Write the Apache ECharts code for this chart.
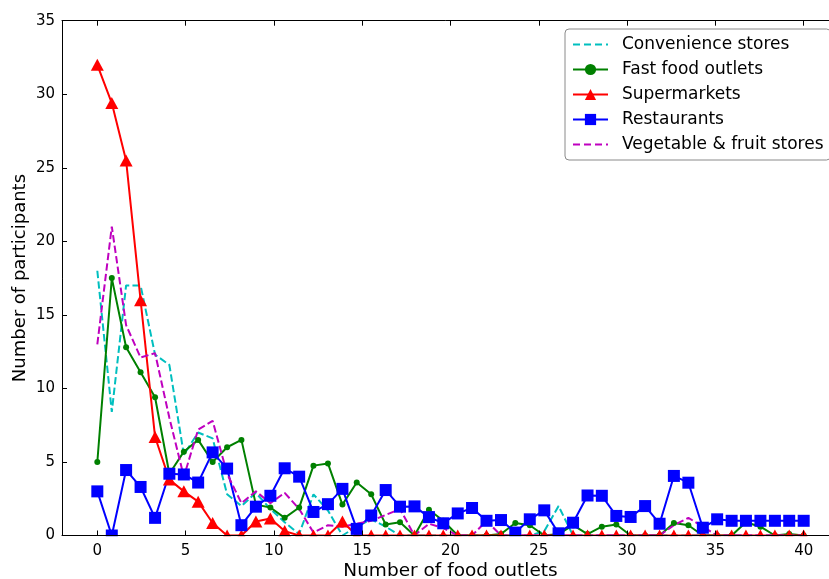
<!DOCTYPE html>
<html>
<head>
<meta charset="utf-8">
<script src="https://cdn.jsdelivr.net/npm/echarts@6/dist/echarts.min.js"></script>
<style>html,body{margin:0;padding:0;background:#fff;}#chart{width:829px;height:579px;}</style>
</head>
<body>
<div id="chart"></div>
<script>
var xValues = [0,0.82,1.63,2.45,3.27,4.08,4.90,5.71,6.53,7.35,8.16,8.98,9.80,10.61,11.43,12.24,13.06,13.88,14.69,15.51,16.33,17.14,17.96,18.78,19.59,20.41,21.22,22.04,22.86,23.67,24.49,25.31,26.12,26.94,27.76,28.57,29.39,30.20,31.02,31.84,32.65,33.47,34.29,35.10,35.92,36.73,37.55,38.37,39.18,40.00];
var convenience = [18.0,8.4,17.0,17.0,12.3,11.6,5.5,7.0,6.6,2.8,2.0,2.9,1.8,0.9,0.1,2.8,1.7,0,0.6,1.1,0.6,0,0,0,0,0,0,0,0,0,0,0.3,2.0,0,0,0,0,0,0,0,0,0,0,0,0,0,0,0,0,0];
var fastFood = [5.0,17.5,12.8,11.1,9.4,4.2,5.7,6.5,5.0,6.0,6.5,2.1,1.9,1.2,1.9,4.75,4.9,2.1,3.6,2.8,0.75,0.9,0,1.75,1.0,0,0,0,0.1,0.85,0.7,0,0.1,0.7,0.1,0.6,0.75,0,0,0,0.85,0.7,0,0,0,0.9,0.6,0,0.1,0];
var supermarkets = [32,29.4,25.5,16.0,6.7,3.8,3.0,2.3,0.85,0,0,0.95,1.15,0.3,0,0,0,0.95,0,0,0,0,0,0,0,0,0,0,0,0,0,0,0,0,0,0,0,0,0,0,0,0,0,0,0,0,0,0,0,0];
var restaurants = [3.0,0,4.45,3.3,1.2,4.2,4.15,3.6,5.65,4.55,0.7,1.96,2.7,4.57,4.0,1.6,2.13,3.17,0.45,1.36,3.09,1.96,1.98,1.25,0.83,1.5,1.87,1.0,1.05,0.2,1.1,1.71,0.15,0.87,2.72,2.7,1.33,1.26,2.0,0.8,4.05,3.59,0.53,1.1,1.0,1.0,1.0,1.0,1.0,1.0];
var vegetable = [13.0,21.0,14.3,12.1,12.4,8.0,4.0,7.2,7.8,4.2,2.2,3.0,2.2,2.9,1.8,0.2,0.7,0.6,0.8,1.0,1.4,1.8,0,0.8,0.5,0,0,1.0,0,0,0,0,0,0,0,0,0,0,0,0,0.7,1.2,0.6,0,0,0,0,0,0,0];
var seriesNames = ['Convenience stores','Fast food outlets','Supermarkets','Restaurants','Vegetable & fruit stores'];
var xTicks = [0,5,10,15,20,25,30,35,40];
var yTicks = [0,5,10,15,20,25,30,35];

function pairs(ys){ return xValues.map(function(x,i){ return [x, ys[i]]; }); }

var FONT = 'DejaVu Sans';
var chart = echarts.init(document.getElementById('chart'), null, {renderer:'canvas'});
var GL = 62, GT = 20.7, GW = 777, GH = 514.8;
var CYAN = '#00bfbf', GREEN = '#008000', RED = '#ff0000', BLUE = '#0000ff', MAG = '#bf00bf';
var DASH = [7.4, 3.2];
var option = {
  backgroundColor: '#ffffff',
  animation: false,
  grid: {left: GL, top: GT, width: GW, height: GH, containLabel: false, outerBoundsMode: 'none'},
  xAxis: [{
    type: 'value', min: -2, max: 42, z: 10,
    position: 'bottom',
    name: 'Number of food outlets', nameLocation: 'middle', nameGap: 26, nameMoveOverlap: false,
    nameTextStyle: {fontFamily: FONT, fontSize: 18.5, color: '#000'},
    axisLine: {show: true, onZero: false, lineStyle: {color: '#000', width: 1}},
    axisTick: {show: true, inside: true, length: 5, customValues: xTicks, lineStyle: {color: '#000'}},
    axisLabel: {fontFamily: FONT, fontSize: 15, color: '#000', margin: 8, customValues: xTicks},
    splitLine: {show: false}
  },{
    type: 'value', min: -2, max: 42, z: 10,
    position: 'top',
    axisLine: {show: true, onZero: false, lineStyle: {color: '#000', width: 1}},
    axisTick: {show: true, inside: true, length: 5, customValues: xTicks, lineStyle: {color: '#000'}},
    axisLabel: {show: false},
    splitLine: {show: false}
  }],
  yAxis: [{
    type: 'value', min: 0, max: 35, interval: 5, z: 10,
    name: 'Number of participants', nameLocation: 'middle', nameGap: 33, nameMoveOverlap: false,
    nameTextStyle: {fontFamily: FONT, fontSize: 18, color: '#000'},
    axisLine: {show: true, onZero: false, lineStyle: {color: '#000', width: 1}},
    axisTick: {show: true, inside: true, length: 5, lineStyle: {color: '#000'}},
    axisLabel: {fontFamily: FONT, fontSize: 15, color: '#000', margin: 7},
    splitLine: {show: false}
  }],
  legend: {
    orient: 'vertical', left: 565, top: 29,
    padding: [7, 7, 7, 7],
    itemWidth: 35, itemHeight: 14, itemGap: 8,
    backgroundColor: '#ffffff',
    borderColor: '#8a8a8a', borderWidth: 1, borderRadius: 4,
    textStyle: {fontFamily: FONT, fontSize: 17, lineHeight: 17, color: '#000', padding: [0,0,0,9]},
    data: [
      {name: seriesNames[0], itemStyle: {opacity: 0}, lineStyle: {color: CYAN, width: 2, type: [7, 4]}},
      {name: seriesNames[1]},
      {name: seriesNames[2]},
      {name: seriesNames[3]},
      {name: seriesNames[4], itemStyle: {opacity: 0}, lineStyle: {color: MAG, width: 2, type: [7, 4]}}
    ]
  },
  graphic: [{
    type: 'rect', z: 5, silent: true,
    shape: {x: GL + 1, y: GT + GH + 0.8, width: 829, height: 60},
    style: {fill: '#ffffff'}
  }],
  series: [
    {name: seriesNames[0], type: 'line', data: pairs(convenience),
     symbol: 'none', lineStyle: {color: CYAN, width: 2, type: DASH}, itemStyle: {color: CYAN}},
    {name: seriesNames[1], type: 'line', data: pairs(fastFood),
     symbol: 'circle', symbolSize: 6, lineStyle: {color: GREEN, width: 2}, itemStyle: {color: GREEN}},
    {name: seriesNames[2], type: 'line', data: pairs(supermarkets),
     symbol: 'triangle', symbolSize: [13, 12], lineStyle: {color: RED, width: 2}, itemStyle: {color: RED}},
    {name: seriesNames[3], type: 'line', data: pairs(restaurants),
     symbol: 'rect', symbolSize: 12, lineStyle: {color: BLUE, width: 2}, itemStyle: {color: BLUE}},
    {name: seriesNames[4], type: 'line', data: pairs(vegetable),
     symbol: 'none', lineStyle: {color: MAG, width: 2, type: DASH}, itemStyle: {color: MAG}}
  ]
};
chart.setOption(option);
</script>
</body>
</html>
